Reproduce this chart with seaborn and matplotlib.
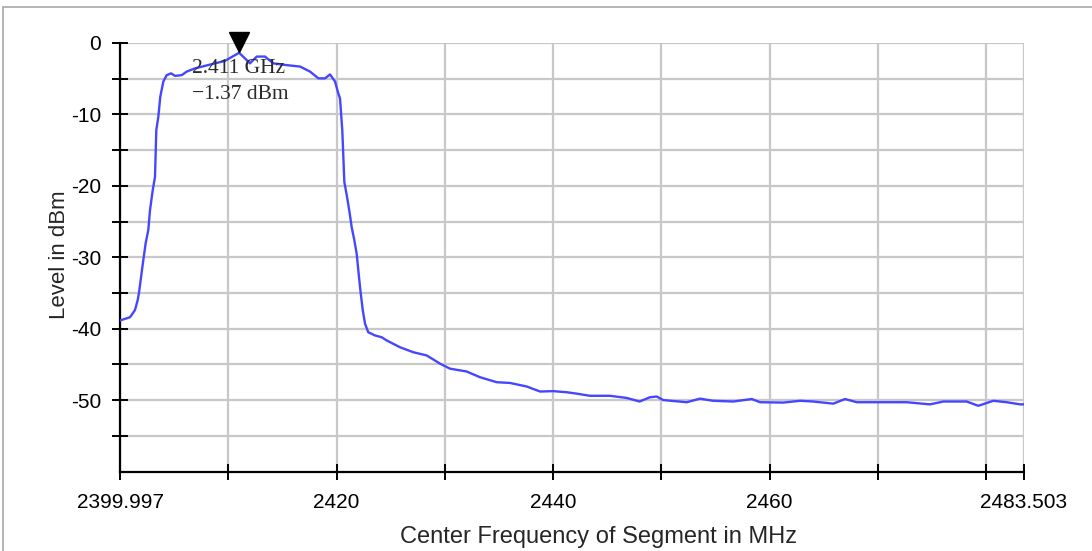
import matplotlib
matplotlib.use("Agg")
import matplotlib.pyplot as plt
import matplotlib.transforms as mtransforms
from matplotlib.patches import Rectangle
import seaborn as sns
import pandas as pd

# Spectrum trace: center frequency of each segment (MHz) and measured level (dBm)
freq_mhz = [
    2399.997, 2400.92, 2401.38, 2401.63, 2401.75, 2401.94, 2402.15, 2402.37, 2402.61, 2402.77,
    2403.02, 2403.23, 2403.35, 2403.54, 2403.72, 2404.00, 2404.31, 2404.71, 2405.08, 2405.70,
    2406.16, 2406.93, 2407.85, 2408.77, 2409.70, 2410.62, 2411.00, 2411.54, 2412.00, 2412.63,
    2413.39, 2414.16, 2415.40, 2416.63, 2417.55, 2418.32, 2418.94, 2419.40, 2419.86, 2420.16,
    2420.32, 2420.53, 2420.72, 2420.97, 2421.22, 2421.40, 2421.64, 2421.86, 2422.01, 2422.20,
    2422.42, 2422.63, 2422.93, 2423.55, 2424.17, 2424.63, 2425.86, 2427.09, 2428.33, 2429.56,
    2430.48, 2432.02, 2433.25, 2434.80, 2436.02, 2437.57, 2438.80, 2440.03, 2441.26, 2442.19,
    2443.41, 2445.26, 2446.80, 2448.00, 2448.95, 2449.57, 2450.18, 2452.35, 2453.57, 2454.80,
    2456.65, 2458.35, 2459.12, 2461.27, 2462.81, 2464.04, 2465.89, 2466.97, 2468.05, 2471.12,
    2472.67, 2474.82, 2476.05, 2478.21, 2479.28, 2480.67, 2481.91, 2483.14, 2483.503,
]
level_dbm = [
    -38.85, -38.4, -37.4, -36.0, -35.0, -32.8, -30.4, -28.0, -26.2, -23.4,
    -20.6, -18.75, -12.2, -10.3, -7.5, -5.4, -4.5, -4.25, -4.6, -4.5,
    -4.0, -3.55, -3.2, -2.85, -2.5, -1.7, -1.37, -2.15, -2.85, -1.9,
    -1.9, -2.85, -3.1, -3.3, -4.0, -4.95, -4.95, -4.4, -5.4, -7.05,
    -7.75, -12.2, -19.45, -21.55, -23.9, -25.8, -27.6, -29.5, -31.8, -34.6,
    -37.4, -39.3, -40.5, -40.95, -41.2, -41.65, -42.6, -43.3, -43.75, -44.9,
    -45.6, -46.0, -46.8, -47.5, -47.6, -48.1, -48.8, -48.75, -48.9, -49.1,
    -49.4, -49.4, -49.7, -50.2, -49.6, -49.5, -50.0, -50.3, -49.8, -50.1,
    -50.2, -49.85, -50.3, -50.35, -50.1, -50.2, -50.5, -49.85, -50.3, -50.3,
    -50.3, -50.6, -50.2, -50.2, -50.8, -50.1, -50.3, -50.6, -50.6,
]

# Peak marker
peak_freq_mhz = 2411.0
peak_level_dbm = -1.37
marker_label = "2.411 GHz\n\u22121.37 dBm"

# Axis ticks
x_major = [2399.997, 2420, 2440, 2460, 2483.503]
x_major_labels = ["2399.997", "2420", "2440", "2460", "2483.503"]
x_minor = [2410, 2430, 2450, 2470, 2480]
y_major = [0, -10, -20, -30, -40, -50]
y_minor = [-5, -15, -25, -35, -45, -55]

sns.set_style("ticks")
plt.rcParams["font.family"] = ["Liberation Sans", "DejaVu Sans"]
plt.rcParams["axes.unicode_minus"] = False

fig = plt.figure(figsize=(10.92, 5.51), dpi=100)
ax = fig.add_axes([120 / 1092, 1 - 471.5 / 551, 904 / 1092, (471.5 - 43) / 551])

# Outer panel frame
fig.patches.append(Rectangle((3 / 1092, -0.2), 1.5, 1.2 - 7 / 551,
                             transform=fig.transFigure, fill=False,
                             edgecolor="#a8a8a8", linewidth=1.2, zorder=0))

df = pd.DataFrame({"freq": freq_mhz, "level": level_dbm})
sns.lineplot(data=df, x="freq", y="level", ax=ax, estimator=None, sort=True,
             color="#4646ff", linewidth=1.7, zorder=3)

ax.set_xlim(x_major[0], x_major[-1])
ax.set_ylim(-60, 0)

ax.set_xticks(x_major)
ax.set_xticklabels(x_major_labels)
ax.set_xticks(x_minor, minor=True)
ax.set_yticks(y_major)
ax.set_yticks(y_minor, minor=True)

ax.grid(True, which="both", color="#c8c8c8", linewidth=1.6)
ax.set_axisbelow(True)

for side in ("top", "right"):
    ax.spines[side].set_visible(False)
for side in ("left", "bottom"):
    ax.spines[side].set_color("black")
    ax.spines[side].set_linewidth(1.6)

ax.tick_params(axis="both", which="both", direction="inout", length=11,
               width=1.4, color="black", labelsize=15, labelcolor="black")
ax.tick_params(axis="y", which="both", pad=8)
ax.tick_params(axis="x", which="both", pad=10)

ax.set_xlabel("Center Frequency of Segment in MHz", fontsize=17, va="center")
ax.xaxis.set_label_coords(0.529, (471.5 - 537) / 428.5)
ax.set_ylabel("Level in dBm", fontsize=16, va="center")
ax.yaxis.set_label_coords((60 - 120) / 904, 0.505)

# Marker triangle with its tip on the peak
tip_offset = mtransforms.offset_copy(ax.transData, fig=fig, x=0, y=7.5, units="points")
ax.plot([peak_freq_mhz], [peak_level_dbm], marker="v", markersize=15,
        color="black", transform=tip_offset, clip_on=False, zorder=5)
ax.annotate(marker_label, xy=(peak_freq_mhz, peak_level_dbm),
            xytext=(-34, -20.5), textcoords="offset points",
            ha="left", va="center", fontsize=15.5, linespacing=1.5,
            family=["Liberation Serif", "DejaVu Serif"], color="#2a2a2a", zorder=6)

fig.savefig("out.png", dpi=100)
